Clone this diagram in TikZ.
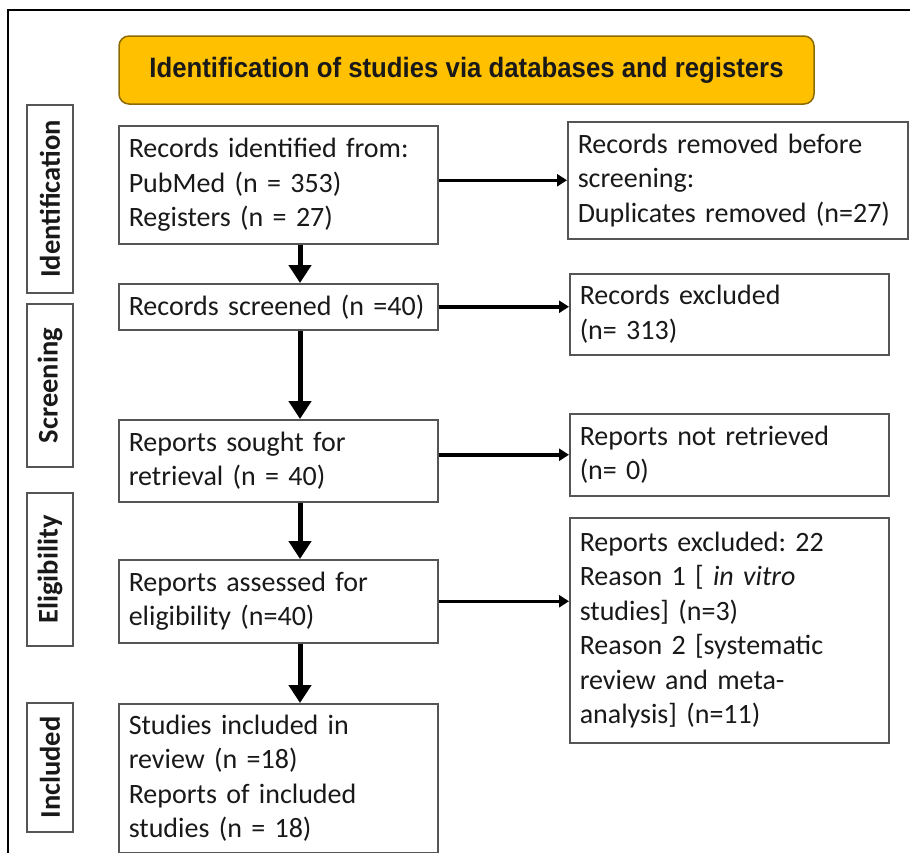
\documentclass[tikz,border=0pt]{standalone}
\usepackage{fontspec}
\setmainfont[WordSpace=0.8]{Carlito}
\newfontfamily\headfont[FakeStretch=0.92]{Liberation Sans}
\usetikzlibrary{arrows.meta}
\definecolor{boxgray}{HTML}{555555}
\definecolor{headfill}{HTML}{FFC000}
\definecolor{headline}{HTML}{8C6A00}
\frenchspacing

\begin{document}
\begin{tikzpicture}[x=1pt,y=-1pt,
    every node/.style={font=\fontsize{28}{34.5}\selectfont, text=black!90},
    box/.style={draw=boxgray, line width=1.5pt, anchor=north west, align=left,
      text width=299pt, inner xsep=10pt, inner ysep=10pt},
    phase/.style={draw=boxgray, line width=1.5pt, rotate=90, minimum height=46pt,
      inner sep=0pt, font=\fontsize{28.5}{34.5}\selectfont\bfseries},
    flow/.style={line width=5pt, -{Triangle[width=22pt,length=18pt]}},
    side/.style={line width=3.5pt, -{Triangle[width=12pt,length=10pt]}}]
      \useasboundingbox (0,0) rectangle (910,852);
      \fill[white] (0,0) rectangle (910,852);
      % \draw[help lines] (0,0) grid[step=50] (910,852);

      \draw[line width=2pt] (8,900) -- (8,10) -- (950,10);

      \draw (466.5,70) node[draw=headline, fill=headfill, rounded corners=10pt, line width=1.5pt,
        minimum width=695pt, minimum height=68pt] (head)
        {\headfont\fontsize{28}{34}\selectfont\bfseries Identification of studies via databases and registers};

      \draw (50,199) node[phase, minimum width=188pt] (ident) {Identification};
      \draw (50,385.5) node[phase, minimum width=163pt] (screen) {Screening};
      \draw (50,569.5) node[phase, minimum width=153pt] (elig) {Eligibility};
      \draw (50,767.5) node[phase, minimum width=129pt] (incl) {Included};

      \draw (118,125) node[box, minimum height=118pt] (records)
        {Records identified from:\\PubMed (n = 353)\\Registers (n = 27)};
      \draw (118,283) node[box, minimum height=46pt] (screened) {\mbox{Records screened (n =40)}};
      \draw (118,419) node[box, minimum height=82pt] (sought) {Reports sought for\\retrieval (n = 40)};
      \draw (118,559) node[box, minimum height=83pt] (assessed) {Reports assessed for\\eligibility (n=40)};
      \draw (118,703) node[box, inner ysep=11pt] (included)
        {Studies included in\\review (n =18)\\Reports of included\\studies (n = 18)};

      \draw (567,121) node[box, text width=320pt, inner xsep=10pt, minimum height=117pt] (removed)
        {Records removed before\\screening:\\Duplicates removed (n=27)};
      \draw (569,273) node[box, minimum height=81pt] (excluded) {Records excluded\\(n= 313)};
      \draw (569,413) node[box, minimum height=82pt] (notret) {Reports not retrieved\\(n= 0)};
      \draw (569,517) node[box, minimum height=225pt] (repexcl)
        {Reports excluded: 22\\Reason 1 [ \textit{in vitro}\\studies] (n=3)\\Reason 2 [systematic\\review and meta-\\analysis] (n=11)};

      \coordinate (axis) at (300,0);
      \draw[flow] (records.south -| axis) -- (screened.north -| axis);
      \draw[flow] (screened.south -| axis) -- (sought.north -| axis);
      \draw[flow] (sought.south -| axis) -- (assessed.north -| axis);
      \draw[flow] (assessed.south -| axis) -- (included.north -| axis);

      \draw[side] (records.east |- removed.west) -- (removed.west);
      \draw[side] (screened.east) -- (screened.east -| excluded.west);
      \draw[side] (sought.east |- notret.west) -- (notret.west);
      \draw[side] (assessed.east) -- (assessed.east -| repexcl.west);
    \end{tikzpicture}
\end{document}
